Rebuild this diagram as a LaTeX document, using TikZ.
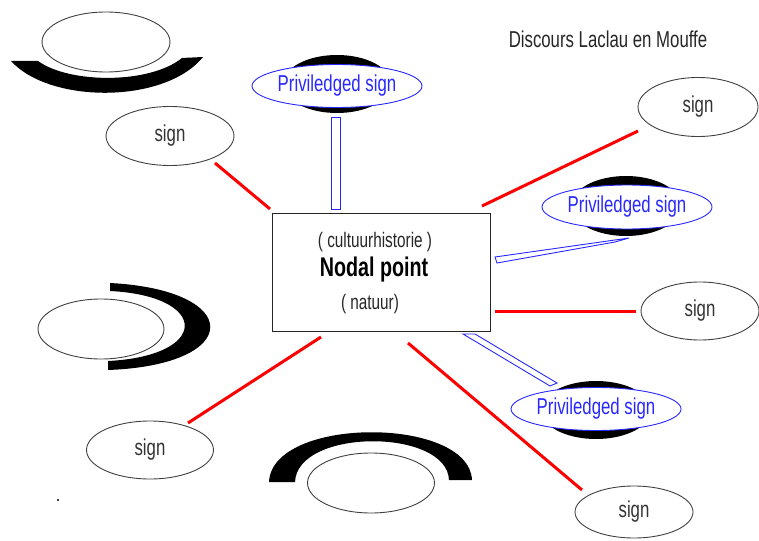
\documentclass[tikz,border=0pt]{standalone}
\usepackage{fontspec}
\setmainfont[FakeStretch=0.73]{Liberation Sans}
\usetikzlibrary{shapes.geometric}
\definecolor{pblue}{RGB}{40,40,255}
\definecolor{lred}{RGB}{255,0,0}
\begin{document}
\begin{tikzpicture}[x=1pt,y=-1pt,
  plain/.style={ellipse,draw=black!75,line width=0.9pt,fill=white,inner sep=0pt,
    minimum width=126,minimum height=58,text=black!80,font=\fontsize{23}{25}\selectfont},
  priv/.style={ellipse,draw=pblue,line width=0.9pt,fill=white,inner sep=0pt,
    minimum width=170,minimum height=43,text=pblue,font=\fontsize{23}{25}\selectfont},
  shadow/.style={ellipse,fill=black,inner sep=0pt,minimum width=108,minimum height=58},
  redline/.style={draw=lred,line width=3pt},
  blueline/.style={draw=pblue,line width=0.9pt,fill=white},
  txt/.style={inner sep=0pt,font=\fontsize{21}{23}\selectfont,text=black!85}]
\useasboundingbox (0,0) rectangle (759,540);

% title
\node[inner sep=0pt,font=\fontsize{23}{25}\selectfont,text=black!85] (title) at (608,39) {Discours Laclau en Mouffe};

% crescents
\fill (11,61) .. controls (50,104) and (165,104) .. (203,57) -- (182,58)
  .. controls (150,84) and (70,84) .. (38,61) -- cycle;
\fill (110,283) .. controls (244,290) and (244,365) .. (108,370) -- (108,361)
  .. controls (210,356) and (210,296) .. (110,291) -- cycle;
\fill (269,482) .. controls (272,416) and (469,416) .. (472,480) -- (449,480)
  .. controls (447,428) and (297,428) .. (295,482) -- cycle;

% blank ellipses
\node[plain,minimum width=128,minimum height=60] (e1) at (106,42) {};
\node[plain,minimum width=126,minimum height=60] (e2) at (101,329) {};
\node[plain,minimum width=127,minimum height=60] (e3) at (371,483) {};

% sign ellipses
\node[plain,minimum width=128,minimum height=59] (s1) at (170,136) {sign};
\node[plain,minimum width=120,minimum height=59] (s2) at (698,107) {sign};
\node[plain,minimum width=118,minimum height=58] (s3) at (700,311) {sign};
\node[plain,minimum width=127,minimum height=58] (s4) at (150,450) {sign};
\node[plain,minimum width=118,minimum height=52] (s5) at (634,512) {sign};

% central box
\node[draw=black!85,line width=0.9pt,minimum width=218,minimum height=118,inner sep=0pt] (box) at (381,272) {};
\node[txt] (t1) at (375,242) {( cultuurhistorie )};
\node[inner sep=0pt,font=\fontsize{27}{29}\selectfont\bfseries] (t2) at (374,270) {Nodal point};
\node[txt] (t3) at (370,304) {( natuur)};

% privileged signs
\node[shadow] (b1) at (337,84) {};
\node[priv] (p1) at (337,86) {Priviledged sign};
\node[shadow,minimum width=110,minimum height=60] (b2) at (626,206) {};
\node[priv,minimum height=44] (p2) at (627,207) {Priviledged sign};
\node[shadow,minimum width=110] (b3) at (596,410) {};
\node[priv] (p3) at (596,409) {Priviledged sign};

% blue connectors
\draw[blueline] (331,117) rectangle (340,209);
\draw[blueline] (495,257) -- (629,238) -- (615,242) -- (497,263) -- cycle;
\draw[blueline] (463,334) -- (475,334) -- (557,383) -- (550,386) -- cycle;

% red connectors
\coordinate (r1a) at (215,163); \coordinate (r1b) at (270,209);
\coordinate (r2a) at (638,131); \coordinate (r2b) at (482,206);
\coordinate (r3a) at (636,311); \coordinate (r3b) at (495,311);
\coordinate (r4a) at (188,423); \coordinate (r4b) at (321,337);
\coordinate (r5a) at (582,490); \coordinate (r5b) at (408,343);
\draw[redline] (r1a) -- (r1b);
\draw[redline] (r2a) -- (r2b);
\draw[redline] (r3a) -- (r3b);
\draw[redline] (r4a) -- (r4b);
\draw[redline] (r5a) -- (r5b);

% small dot
\fill (58,500) circle (1.2);
\end{tikzpicture}
\end{document}
